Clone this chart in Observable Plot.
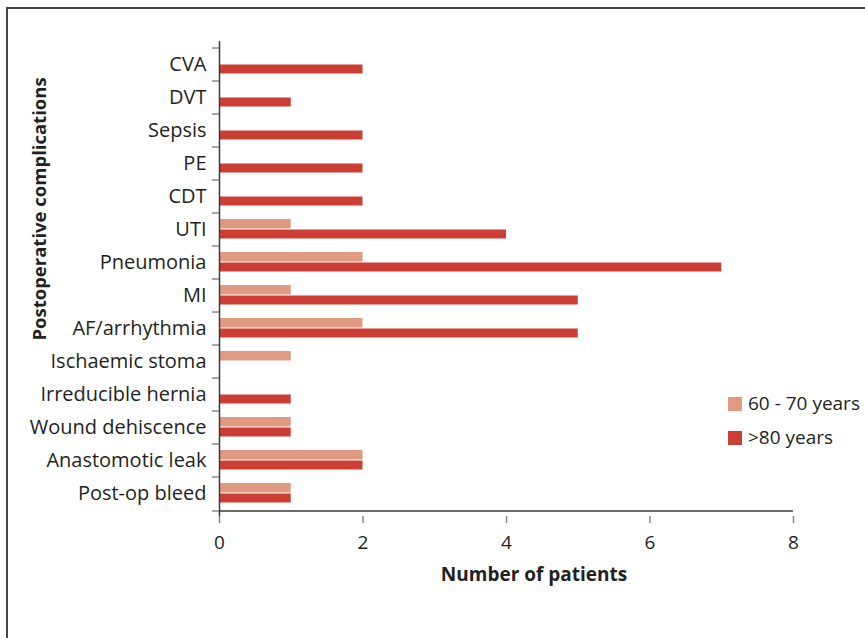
<!DOCTYPE html>
<html>
<head>
<meta charset="utf-8">
<script src="https://cdn.jsdelivr.net/npm/d3@7"></script>
<script src="https://cdn.jsdelivr.net/npm/@observablehq/plot@0.6"></script>
<style>
  html, body { margin: 0; padding: 0; background: #fff; }
  #wrap { position: relative; width: 865px; height: 638px; overflow: hidden; font-family: "Open Sans", sans-serif; color: #231f20; }
  #border { position: absolute; left: 6px; top: 7px; width: 2000px; height: 2000px; border-left: 2px solid #444; border-top: 2px solid #444; box-sizing: border-box; }
  #chart { position: absolute; left: 0; top: 0; }
  .legend { position: absolute; left: 728px; font-size: 19px; display: flex; align-items: center; line-height: 1; }
  .legend span.sw { display: inline-block; width: 14px; height: 14px; margin-right: 6px; }
</style>
</head>
<body>
<div id="wrap">
  <div id="border"></div>
  <div id="chart"></div>
</div>
<script>
const categories = ["CVA","DVT","Sepsis","PE","CDT","UTI","Pneumonia","MI","AF/arrhythmia","Ischaemic stoma","Irreducible hernia","Wound dehiscence","Anastomotic leak","Post-op bleed"];
const series = ["60 - 70 years", ">80 years"];
const values6070 = [0,0,0,0,0,1,2,1,2,1,0,1,2,1];
const values80 = [2,1,2,2,2,4,7,5,5,0,1,1,2,1];
const xTicks = [0,2,4,6,8];
const xTitle = "Number of patients";
const yTitle = "Postoperative complications";
const colors = ["#e09a82", "#cc3e33"];

const data6070 = categories.map((c, i) => ({category: c, value: values6070[i]}));
const data80 = categories.map((c, i) => ({category: c, value: values80[i]}));

const W = 865, H = 638;
const mL = 219, mR = 72, mT = 41, mB = 122;
const band = (H - mT - mB) / categories.length;
const axisColor = "#3a3a3a";
const tickColor = "#8a8a8a";

const chart = Plot.plot({
  width: W,
  height: H,
  marginLeft: mL,
  marginRight: mR,
  marginTop: mT,
  marginBottom: mB,
  style: {fontFamily: "Open Sans, sans-serif", fontSize: "19px", color: "#231f20", background: "transparent"},
  x: {domain: [0, 8], ticks: xTicks, label: null},
  y: {type: "band", domain: categories, padding: 0, label: null},
  marks: [
    Plot.barX(data6070.filter(d => d.value > 0), {x: "value", y: "category", fill: colors[0], insetTop: 6, insetBottom: 17.5}),
    Plot.barX(data80.filter(d => d.value > 0), {x: "value", y: "category", fill: colors[1], insetTop: 16.5, insetBottom: 7.5}),
    // y tick marks at category boundaries
    Plot.axisY({tickSize: 7, dy: -band / 2, text: null, label: null, stroke: tickColor, strokeWidth: 1.5}),
    Plot.axisY({ticks: [categories[categories.length - 1]], tickSize: 7, dy: band / 2, text: null, label: null, stroke: tickColor, strokeWidth: 1.5}),
    Plot.axisY({tickSize: 0, tickPadding: 13, fontSize: 20, label: null}),
    // x axis
    Plot.axisX({ticks: xTicks, tickSize: 7, tickPadding: 12, stroke: tickColor, strokeWidth: 1.5, fontSize: 19, label: null}),
    Plot.ruleX([0], {stroke: axisColor, strokeWidth: 1.5}),
    Plot.ruleY([categories[categories.length - 1]], {x1: 0, x2: 8, dy: band / 2, stroke: axisColor, strokeWidth: 1.5}),
    // titles
    Plot.text([xTitle], {frameAnchor: "bottom", textAnchor: "middle", dy: 64, dx: 27.5, fontWeight: "bold", fontSize: 19, fill: "#231f20"}),
    Plot.text([yTitle], {frameAnchor: "left", textAnchor: "middle", dx: -179, dy: -70, rotate: -90, fontWeight: "bold", fontSize: 18.5, fill: "#231f20"})
  ]
});
document.getElementById("chart").appendChild(chart);

const wrap = document.getElementById("wrap");
series.forEach((s, i) => {
  const div = document.createElement("div");
  div.className = "legend";
  div.style.top = (394 + i * 34) + "px";
  const sw = document.createElement("span");
  sw.className = "sw";
  sw.style.background = colors[i];
  div.appendChild(sw);
  div.appendChild(document.createTextNode(s));
  wrap.appendChild(div);
});
</script>
</body>
</html>
